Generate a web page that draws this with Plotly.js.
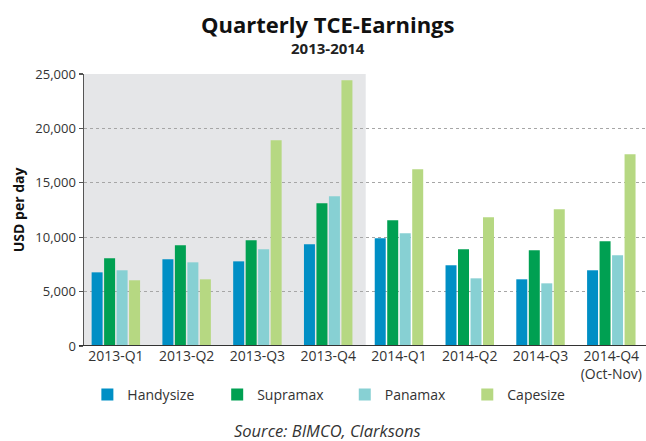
<!DOCTYPE html>
<html>
<head>
<meta charset="utf-8">
<script src="https://cdn.plot.ly/plotly-3.0.1.min.js"></script>
<style>html,body{margin:0;padding:0;background:#fff;}#chart{width:646px;height:441px;}</style>
</head>
<body>
<div id="chart"></div>
<script>
const categories = ["2013-Q1","2013-Q2","2013-Q3","2013-Q4","2014-Q1","2014-Q2","2014-Q3","2014-Q4<br>(Oct-Nov)"];
const handysize = [6770, 7970, 7780, 9350, 9900, 7420, 6130, 6960];
const supramax  = [8060, 9250, 9710, 13110, 11550, 8890, 8790, 9620];
const panamax   = [6960, 7690, 8890, 13760, 10360, 6220, 5760, 8330];
const capesize  = [6040, 6130, 18900, 24420, 16240, 11830, 12560, 17620];
const yTicks = [0, 5000, 10000, 15000, 20000, 25000];
const yTickText = ["0","5,000","10,000","15,000","20,000","25,000"];

const FONT = "Open Sans, Noto Sans, DejaVu Sans, sans-serif";
const mk = (name, y, color, lg) => ({type:"bar", name, x: categories.map((c,i)=>i), y, marker:{color}, hoverinfo:"y", legend: lg});
const data = [
  mk("Handysize", handysize, "#008fc5", "legend"),
  mk("Supramax", supramax, "#00a052", "legend2"),
  mk("Panamax", panamax, "#87d0d3", "legend3"),
  mk("Capesize", capesize, "#b6d882", "legend4")
];
const lg = (x) => ({orientation: "h", x: x, xanchor: "left", y: -0.121, yanchor: "top",
           font: {size: 14, color: "#333"}, itemclick: false, bgcolor: "rgba(0,0,0,0)"});

const layout = {
  width: 646, height: 441,
  margin: {l: 84, r: 0, t: 74, b: 95},
  paper_bgcolor: "#ffffff", plot_bgcolor: "rgba(0,0,0,0)",
  font: {family: FONT, color: "#333", size: 13},
  barmode: "group", bargap: 0.294, bargroupgap: 0.12,
  showlegend: true,
  legend: lg(0.006), legend2: lg(0.237), legend3: lg(0.464), legend4: lg(0.682),
  xaxis: {type: "linear", range: [-0.45, 7.49], tickmode: "array",
          tickvals: categories.map((c,i)=>i), ticktext: categories,
          showgrid: false, zeroline: false, showline: false, ticks: "",
          tickfont: {size: 14, color: "#333"}, fixedrange: true},
  yaxis: {range: [0, 25000], tickmode: "array", tickvals: yTicks, ticktext: yTickText,
          showgrid: true, gridcolor: "#a6a6a6", griddash: "dot", gridwidth: 1,
          zeroline: false, showline: true, linecolor: "#555", linewidth: 1.5,
          ticks: "outside", ticklen: 4, tickcolor: "#555", tickwidth: 1.2,
          tickfont: {size: 13, color: "#333"}, fixedrange: true},
  shapes: [
    {type: "rect", layer: "below", xref: "x", yref: "y", x0: -0.45, x1: 3.53, y0: 0, y1: 25000,
     fillcolor: "#e5e6e8", line: {width: 0}},
    {type: "line", layer: "above", xref: "paper", yref: "y", x0: -0.009, x1: 1, y0: 0, y1: 0,
     line: {color: "#333", width: 2}}
  ],
  annotations: [
    {text: "<b>Quarterly TCE-Earnings</b>", xref: "paper", yref: "paper", x: 0.435, y: 1.182,
     xanchor: "center", yanchor: "middle", showarrow: false, font: {size: 22, color: "#111"}},
    {text: "<b>2013-2014</b>", xref: "paper", yref: "paper", x: 0.435, y: 1.094,
     xanchor: "center", yanchor: "middle", showarrow: false, font: {size: 15, color: "#222"}},
    {text: "<b>USD per day</b>", xref: "paper", yref: "paper", x: -0.117, y: 0.5, textangle: -90,
     xanchor: "center", yanchor: "middle", showarrow: false, font: {size: 14, color: "#111"}},
    {text: "<i>Source: BIMCO, Clarksons</i>", xref: "paper", yref: "paper", x: 0.433, y: -0.31,
     xanchor: "center", yanchor: "middle", showarrow: false, font: {size: 16.5, color: "#333"}}
  ]
};
Plotly.newPlot("chart", data, layout, {displayModeBar: false, staticPlot: true});
</script>
</body>
</html>
